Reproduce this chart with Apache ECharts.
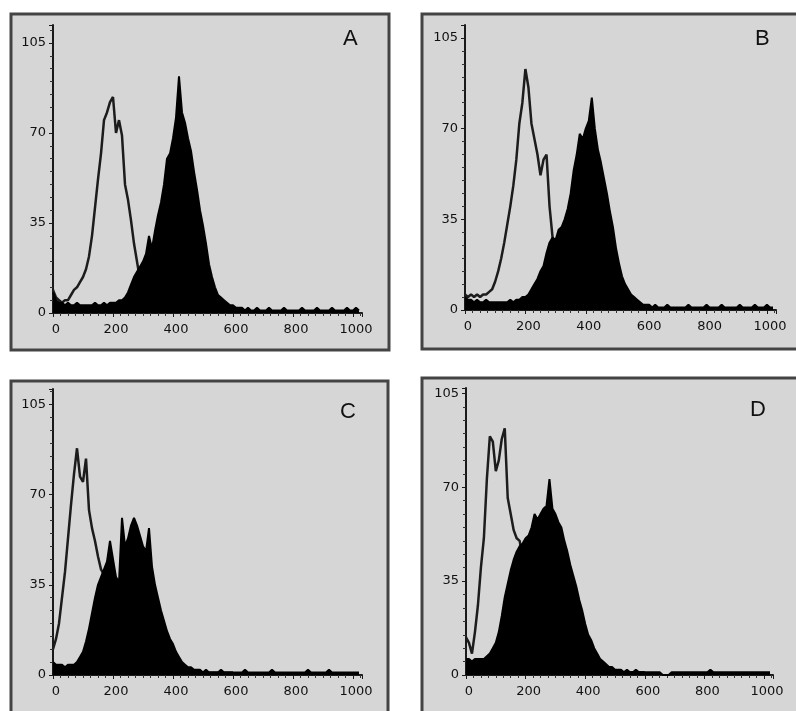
<!DOCTYPE html>
<html>
<head>
<meta charset="utf-8">
<script src="https://cdn.jsdelivr.net/npm/echarts@6/dist/echarts.min.js"></script>
<style>
  html, body { margin: 0; padding: 0; background: #fff; }
  #chart { width: 796px; height: 711px; }
</style>
</head>
<body>
<div id="chart"></div>
<script>
// channel of each histogram bin (bin width 10)
var channels = [];
for (var c = 0; c <= 1020; c += 10) channels.push(c);

var xTicks = [0, 200, 400, 600, 800, 1000];
var yTicks = [0, 35, 70, 105];
var panelNames = ['A', 'B', 'C', 'D'];

// open histograms (control)
var openA = [9,6,5,4,5,5,7,9,10,12, 14,17,22,30,41,52,62,75,78,82,
  84,70,75,69,50,44,36,27,20,13, 9,6,5,4,4,3,3,3,2,2,
  2,2,2,2,2,2,1,1,1,1, 1,1,1,1,1,1,1,1,1,1, 1];
var openB = [6,5,6,5,6,5,6,6,7,8, 11,15,20,26,33,40,48,58,72,80,
  93,86,72,66,60,52,58,60,40,28, 22,14,9,6,5,4,3,3,3,2,
  2,2,2,2,2,2,2,1,1,1, 1,1,1,1,1,1,1,1,1,1, 1];
var openC = [10,14,20,30,40,53,66,78,88,77, 75,84,64,57,52,46,41,39,34,26,
  18,12,8,6,5,4,4,3,3,3, 2,2,2,2,2,2,2,2,1,1,
  1,1,1,1,1,1,1,1,1,1, 1,1,1,1,1,1,1,1,1,1, 1];
var openD = [14,12,8,16,26,40,51,73,89,87, 76,80,88,92,66,60,54,51,50,44,
  30,20,12,8,6,5,4,4,3,3, 3,2,2,2,2,2,2,1,1,1,
  1,1,1,1,1,1,1,1,1,1, 1,1,1,1,1,1,1,1,1,1, 1];

// filled histograms (stained)
var fillA = [8,5,4,4,3,4,3,3,4,3, 3,3,3,3,4,3,3,4,3,4,
  4,4,5,5,6,8,11,14,16,18, 20,23,30,25,32,38,43,50,60,62,
  68,76,92,78,74,68,63,55,48,40, 34,27,19,14,10,7,6,5,4,3,
  3,2,2,2,1,2,1,1,2,1, 1,1,2,1,1,1,1,2,1,1,
  1,1,1,2,1,1,1,1,2,1, 1,1,1,2,1,1,1,1,2,1, 1,2,1];
var fillB = [5,4,4,3,4,3,3,4,3,3, 3,3,3,3,3,4,3,4,4,5,
  5,6,8,10,12,15,17,22,26,28, 27,31,32,35,39,45,54,60,68,66,
  70,73,82,70,62,57,51,45,38,32, 24,18,13,10,8,6,5,4,3,2,
  2,2,1,2,1,1,1,2,1,1, 1,1,1,1,2,1,1,1,1,1,
  2,1,1,1,1,2,1,1,1,1, 1,2,1,1,1,1,2,1,1,1, 2,1,1];
var fillC = [5,4,4,4,3,4,4,4,5,7, 9,13,18,24,30,35,38,41,44,52,
  45,38,36,61,50,53,58,61,58,54, 50,48,57,42,35,30,25,21,17,14,
  12,9,7,5,4,3,3,2,2,2, 1,2,1,1,1,1,2,1,1,1,
  1,1,1,1,2,1,1,1,1,1, 1,1,1,2,1,1,1,1,1,1,
  1,1,1,1,1,2,1,1,1,1, 1,1,2,1,1,1,1,1,1,1, 1,1,1];
var fillD = [6,6,5,6,6,6,6,7,8,10, 12,16,22,29,34,39,43,46,48,49,
  51,52,55,60,58,60,62,63,73,62, 60,57,55,50,46,41,37,33,28,24,
  19,15,13,10,8,6,5,4,3,3, 2,2,2,1,2,1,1,2,1,1,
  1,1,1,1,1,1,0,0,0,1, 1,1,1,1,1,1,1,1,1,1,
  1,1,2,1,1,1,1,1,1,1, 1,1,1,1,1,1,1,1,1,1, 1,1,1];

var openSets = [openA, openB, openC, openD];
var fillSets = [fillA, fillB, fillC, fillD];

// panel layout (pixels)
var frames = [
  { x: 11, y: 14, w: 378, h: 336 },
  { x: 422, y: 14, w: 390, h: 335 },
  { x: 11, y: 381, w: 377, h: 340 },
  { x: 422, y: 378, w: 390, h: 340 }
];
var grids = [
  { left: 53, top: 25, width: 309, height: 288, ymax: 112 },
  { left: 465, top: 25, width: 311, height: 285, ymax: 110 },
  { left: 53, top: 389, width: 309, height: 286, ymax: 111 },
  { left: 466, top: 388, width: 307, height: 287, ymax: 107 }
];
var letterPos = [
  { left: 343, top: 28 },
  { left: 755, top: 28 },
  { left: 340, top: 401 },
  { left: 750, top: 399 }
];

function pairs(vals) {
  return vals.map(function (v, i) { return [channels[i], v]; });
}

var axisFont = { fontFamily: 'DejaVu Sans', fontSize: 13, color: '#111' };

var option = {
  backgroundColor: '#fff',
  animation: false,
  graphic: frames.map(function (f) {
    return {
      type: 'rect', z: -5,
      shape: { x: f.x, y: f.y, width: f.w, height: f.h },
      style: { fill: '#d6d6d6', stroke: '#444', lineWidth: 3 }
    };
  }),
  title: panelNames.map(function (n, i) {
    return {
      text: n, left: letterPos[i].left, top: letterPos[i].top, padding: 0,
      textStyle: { fontFamily: 'Liberation Sans', fontSize: 22, fontWeight: 'normal', color: '#111' }
    };
  }),
  grid: grids.map(function (g) {
    return { left: g.left, top: g.top, width: g.width, height: g.height };
  }),
  xAxis: grids.map(function (g, i) {
    return {
      type: 'value', gridIndex: i, min: 0, max: 1030, interval: 200,
      axisLine: { show: true, lineStyle: { color: '#1a1a1a', width: 2 } },
      axisTick: { show: true, length: 4, lineStyle: { color: '#1a1a1a' } },
      minorTick: { show: true, splitNumber: 8, length: 3, lineStyle: { color: '#333' } },
      splitLine: { show: false },
      axisLabel: Object.assign({ margin: 10, showMaxLabel: false, padding: [0, 0, 0, 6],
        formatter: function (v) { return xTicks.indexOf(v) >= 0 ? String(v) : ''; } }, axisFont)
    };
  }),
  yAxis: grids.map(function (g, i) {
    return {
      type: 'value', gridIndex: i, min: 0, max: g.ymax, interval: 35,
      axisLine: { show: true, lineStyle: { color: '#1a1a1a', width: 2 } },
      axisTick: { show: true, length: 4, lineStyle: { color: '#1a1a1a' } },
      minorTick: { show: true, splitNumber: 7, length: 3, lineStyle: { color: '#333' } },
      splitLine: { show: false },
      axisLabel: Object.assign({ margin: 7, showMaxLabel: false,
        formatter: function (v) { return yTicks.indexOf(v) >= 0 ? String(v) : ''; } }, axisFont)
    };
  }),
  series: []
};

for (var p = 0; p < 4; p++) {
  option.series.push({
    name: 'control ' + panelNames[p], type: 'line', xAxisIndex: p, yAxisIndex: p,
    data: pairs(openSets[p]), symbol: 'none', z: 2,
    lineStyle: { color: '#1c1c1c', width: 2.5 }
  });
  option.series.push({
    name: 'stained ' + panelNames[p], type: 'line', xAxisIndex: p, yAxisIndex: p,
    data: pairs(fillSets[p]), symbol: 'none', z: 3,
    lineStyle: { color: '#000', width: 2 },
    areaStyle: { color: '#000', opacity: 1 }
  });
}

var chart = echarts.init(document.getElementById('chart'));
chart.setOption(option);
</script>
</body>
</html>
